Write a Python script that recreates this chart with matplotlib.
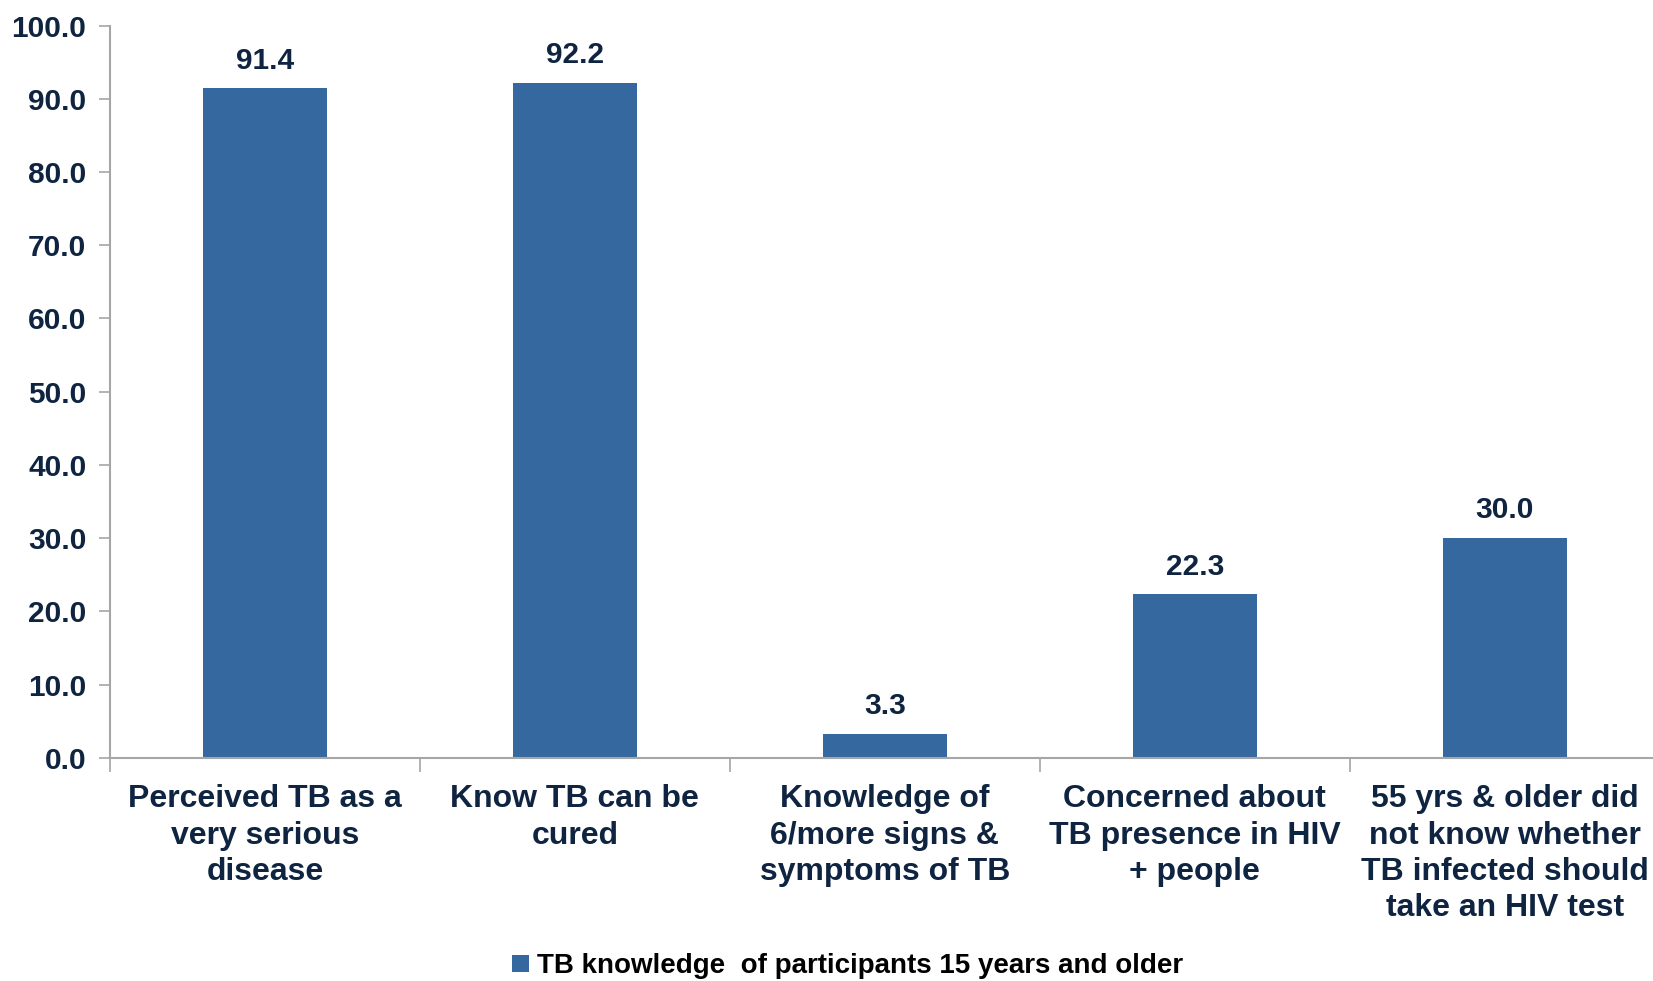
import matplotlib.pyplot as plt
from matplotlib.patches import Patch

categories = [
    "Perceived TB as a\nvery serious\ndisease",
    "Know TB can be\ncured",
    "Knowledge of\n6/more signs &\nsymptoms of TB",
    "Concerned about\nTB presence in HIV\n+ people",
    "55 yrs & older did\nnot know whether\nTB infected should\ntake an HIV test",
]
values = [91.4, 92.2, 3.3, 22.3, 30.0]
series_name = "TB knowledge  of participants 15 years and older"
yticks = [0, 10, 20, 30, 40, 50, 60, 70, 80, 90, 100]

bar_color = "#34689E"
text_color = "#0F2440"
axis_color = "#A6A6A6"

plt.rcParams['font.family'] = ['Liberation Sans', 'DejaVu Sans']
plt.rcParams['font.weight'] = 'bold'

fig = plt.figure(figsize=(16.53, 9.81), dpi=100)
ax = fig.add_axes([0.0665, 0.2276, 0.9375, 0.7464])

x = list(range(len(values)))
ax.bar(x, values, width=0.4, color=bar_color)

for xi, v in zip(x, values):
    ax.annotate(f"{v:.1f}", (xi, v), xytext=(0, 10), textcoords="offset points",
                ha="center", va="bottom", fontsize=21.5, fontweight="bold",
                color=text_color)

ax.set_xlim(-0.5, len(values) - 0.5)
ax.set_ylim(0, 100)
ax.set_yticks(yticks)
ax.set_yticklabels([f"{t:.1f}" for t in yticks], fontsize=21.5, fontweight="bold",
                   color=text_color)

# category boundaries as major ticks, labels at centres
ax.set_xticks([i - 0.5 for i in range(len(values) + 1)])
ax.set_xticklabels([])
ax.set_xticks(x, minor=True)
ax.set_xticklabels(categories, minor=True, fontsize=23, fontweight="bold",
                   color=text_color, linespacing=1.28)
ax.tick_params(axis="x", which="minor", length=0, pad=19)
ax.tick_params(axis="x", which="major", length=10, color=axis_color, width=1.2)
ax.tick_params(axis="y", length=8, color=axis_color, width=1.2, pad=9)

for side in ["top", "right"]:
    ax.spines[side].set_visible(False)
for side in ["left", "bottom"]:
    ax.spines[side].set_color(axis_color)
    ax.spines[side].set_linewidth(1.5)

handle = Patch(facecolor=bar_color, edgecolor="none", label=series_name)
fig.legend(handles=[handle], loc="center", bbox_to_anchor=(0.513, 0.015),
           frameon=False, handlelength=0.6, handleheight=0.6,
           handletextpad=0.3, prop={"weight": "bold", "size": 20})

fig.savefig("out.png", dpi=100)
